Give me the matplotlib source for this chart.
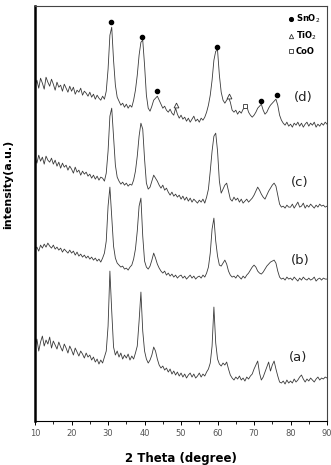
import numpy as np
import matplotlib
matplotlib.use('Agg')
import matplotlib.pyplot as plt

# 2 theta sampling, 0.5 degree steps from 10 to 90
two_theta = np.arange(10, 90.01, 0.5)

# intensities (a.u.), one list per sample
int_d = [336, 341, 333, 343, 338, 332, 344, 339, 335, 342,
         337, 331, 339, 334, 336, 330, 337, 333, 329, 335,
         330, 334, 327, 331, 329, 333, 326, 330, 328, 325,
         329, 324, 327, 322, 326, 323, 321, 325, 322, 330,
         352, 386, 394, 361, 336, 324, 320, 316, 318, 314,
         317, 313, 316, 314, 321, 331, 346, 366, 379, 381,
         356, 326, 313, 310, 315, 321, 323, 325, 321, 317,
         313, 315, 311, 309, 312, 308, 306, 313, 307, 303,
         306, 302, 304, 300, 303, 299, 302, 305, 300, 302,
         299, 303, 301, 304, 309, 316, 326, 341, 361, 370,
         371, 346, 329, 321, 318, 321, 324, 319, 311, 309,
         311, 307, 310, 308, 312, 313, 315, 309, 306, 304,
         306, 309, 313, 315, 317, 311, 307, 309, 313, 316,
         318, 320, 322, 316, 306, 301, 298, 296, 299, 295,
         297, 294, 298, 296, 299, 295, 298, 294, 297, 299,
         295, 298, 296, 299, 294, 297, 295, 298, 296, 299,
         297]

int_c = [263, 258, 266, 260, 264, 257, 265, 261, 259, 263,
         257, 261, 255, 259, 253, 258, 254, 256, 251, 255,
         252, 248, 254, 249, 251, 246, 250, 247, 249, 245,
         247, 243, 246, 242, 245, 241, 244, 243, 240, 248,
         270, 305, 313, 285, 256, 244, 240, 237, 239, 236,
         238, 235, 237, 236, 241, 250, 265, 285, 298, 292,
         262, 238, 232, 234, 240, 246, 243, 240, 236, 233,
         236, 231, 233, 229, 226, 229, 225, 227, 224, 226,
         222, 225, 221, 224, 220, 223, 219, 222, 220, 218,
         221, 219, 222, 218, 224, 232, 250, 270, 285, 288,
         270, 240, 228, 232, 236, 238, 230, 222, 220, 224,
         221, 223, 219, 222, 218, 220, 222, 219, 221, 223,
         226, 230, 234, 231, 227, 224, 222, 226, 230, 233,
         236, 238, 235, 226, 217, 214, 215, 213, 216, 214,
         214, 217, 213, 216, 219, 214, 215, 218, 213, 216,
         214, 217, 215, 213, 216, 214, 217, 215, 216, 214,
         215]

int_b = [172, 174, 170, 176, 173, 177, 174, 178, 175, 173,
         176, 172, 174, 171, 173, 169, 172, 170, 168, 171,
         168, 170, 166, 169, 165, 167, 164, 166, 163, 165,
         162, 164, 161, 163, 160, 162, 159, 163, 168, 180,
         215, 234, 205, 175, 163, 158, 156, 154, 155, 152,
         153, 151, 154, 156, 162, 172, 190, 215, 223, 185,
         160, 154, 152, 155, 161, 168, 163, 157, 153, 150,
         148, 150, 146, 148, 145, 147, 144, 146, 143, 145,
         146, 143, 145, 142, 144, 146, 143, 145, 142, 144,
         145, 143, 146, 144, 148, 154, 168, 192, 203, 180,
         165, 156, 155, 158, 161, 157, 150, 146, 144, 145,
         143, 146, 144, 142, 145, 143, 146, 148, 151, 154,
         156, 154, 150, 148, 147, 149, 152, 155, 157, 159,
         160, 161, 158, 150, 144, 142, 143, 141, 144, 142,
         143, 141, 144, 142, 140, 143, 141, 144, 142, 141,
         143, 141, 142, 144, 140, 142, 143, 141, 143, 142,
         142]

int_a = [74, 82, 70, 79, 85, 75, 81, 77, 84, 73,
         80, 76, 72, 79, 74, 70, 77, 73, 68, 75,
         71, 66, 73, 69, 65, 70, 67, 63, 68, 64,
         66, 61, 64, 59, 62, 57, 61, 58, 64, 70,
         95, 150, 110, 74, 66, 70, 64, 68, 62, 66,
         63, 67, 61, 65, 62, 68, 75, 100, 129, 90,
         70, 62, 58, 61, 66, 74, 70, 62, 56, 53,
         55, 51, 53, 49, 52, 47, 50, 46, 49, 45,
         48, 44, 47, 43, 46, 48, 44, 47, 43, 45,
         48, 44, 47, 45, 49, 52, 58, 75, 114, 78,
         62, 57, 55, 58, 56, 59, 52, 46, 43, 41,
         44, 42, 45, 41, 43, 40, 44, 42, 45, 47,
         52, 56, 60, 48, 41, 44, 49, 54, 59, 50,
         56, 60, 52, 45, 39, 38, 40, 37, 41, 38,
         40, 38, 42, 39, 41, 44, 46, 42, 39, 42,
         40, 43, 41, 39, 42, 44, 41, 43, 42, 44,
         43]

# phase marks on pattern (d)
sno2_x = [30.8, 39.3, 43.4, 59.9, 71.9, 76.3]
sno2_y = [399, 384, 330, 374, 320, 326]
tio2_x = [48.6, 63.2]
tio2_y = [316, 325]
coo_x = [67.5]
coo_y = [315]

labels = ['(a)', '(b)', '(c)', '(d)']
label_x = [82.1, 82.6, 82.6, 83.4]
label_y = [64, 161, 239, 324]

fig = plt.figure(figsize=(3.31, 4.65), dpi=100)
ax = fig.add_axes([0.106, 0.0946, 0.882, 0.892])

for y in [int_a, int_b, int_c, int_d]:
    ax.plot(two_theta, y, color='#3a3a3a', lw=0.6)

ax.plot(sno2_x, sno2_y, 'o', color='black', ms=3, ls='none', label='SnO$_2$')
ax.plot(tio2_x, tio2_y, '^', mfc='white', mec='#333333', mew=0.6, ms=3.5,
        ls='none', label='TiO$_2$')
ax.plot(coo_x, coo_y, 's', mfc='white', mec='#333333', mew=0.6, ms=3.2,
        ls='none', label='CoO')

for lab, lx, ly in zip(labels, label_x, label_y):
    ax.text(lx, ly, lab, fontsize=9.5, color='#222222', ha='center', va='center')

leg = ax.legend(loc='upper right', frameon=False, prop={'weight': 'bold', 'size': 6},
                handletextpad=0.1, handlelength=1.0, labelspacing=0.55,
                borderaxespad=0.4, markerscale=0.9)

ax.set_xlim(10, 90)
ax.set_ylim(0, 415)
ax.set_xticks(range(10, 91, 10))
ax.set_xticks(range(15, 90, 10), minor=True)
ax.set_yticks([])
ax.tick_params(axis='x', which='major', length=3, width=0.7, labelsize=6,
               labelcolor='#555555', pad=3)
ax.tick_params(axis='x', which='minor', length=2, width=0.6)

ax.spines['left'].set_linewidth(1.8)
for s in ['top', 'right', 'bottom']:
    ax.spines[s].set_linewidth(0.8)
ax.spines['top'].set_color('#444444')
ax.spines['right'].set_color('#444444')

ax.set_xlabel('2 Theta (degree)', fontsize=8.5, fontweight='bold', labelpad=10)
ax.set_ylabel('intensity(a.u.)', fontsize=8, fontweight='bold')
ax.yaxis.set_label_coords(-0.075, 0.57)

fig.savefig('out.png', dpi=100)
